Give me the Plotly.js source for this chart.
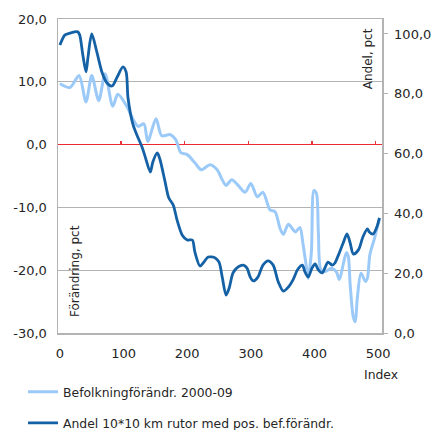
<!DOCTYPE html>
<html>
<head>
<meta charset="utf-8">
<script src="https://cdn.plot.ly/plotly-3.0.1.min.js"></script>
<style>html,body{margin:0;padding:0;background:#fff;}#chart{width:431px;height:430px;}</style>
</head>
<body>
<div id="chart"></div>
<script>
// Light series: Befolkningförändr. 2000-09 (left axis, pct change)
var befX = [0,16,30,41,50,61,71,83,91,105,115,123,132,138,151,160,173,182,190,200,212,222,236,247,255,261,270,280,291,300,310,319,330,338,346,351,359,370,377,382,387,390,395,399,403,406,410,417,426,434,439,445,450,453,456,461,464,467,473,480,483,487,494,502];
var befY = [9.7,9.1,11.0,6.8,11.0,7.0,11.3,6.1,8.0,6.1,4.0,2.9,3.3,0.5,4.1,1.4,1.6,0.8,-1.3,-1.6,-2.9,-4.0,-3.2,-4.0,-5.6,-6.5,-5.6,-6.5,-7.6,-6.2,-8.3,-7.6,-10.4,-10.7,-13.4,-14.3,-12.7,-13.9,-13.2,-15.9,-19.3,-21.3,-17.2,-7.3,-7.8,-13.9,-19.9,-20.2,-19.7,-20.2,-21.5,-19.1,-17.2,-17.8,-22.3,-27.5,-28.2,-24.7,-20.5,-21.8,-21.3,-17.5,-15.0,-11.8];

// Dark series: Andel 10*10 km rutor med pos. bef.förändr. (right axis, share pct)
var andelX = [0,8,16,28,31,36,41,44,50,58,66,74,82,90,99,104,107,115,123,129,134,142,146,153,157,165,171,178,184,192,200,208,212,220,225,233,244,250,255,261,266,272,280,288,294,299,304,311,319,327,335,343,351,359,366,374,381,385,390,396,401,406,412,417,421,428,432,437,445,451,456,461,469,476,483,486,492,498,502];
var andelY = [96.3,99.7,100.3,100.7,99.7,93.0,87.3,92.0,100.0,94.0,87.3,83.6,82.6,85.6,89.0,87.3,78.6,69.6,65.2,62.2,58.9,53.8,57.2,60.2,58.2,50.8,45.2,42.8,37.8,32.8,31.1,31.1,27.1,22.4,23.4,25.4,25.1,23.7,18.7,12.7,15.1,20.1,22.1,22.7,21.7,18.7,17.4,18.7,22.7,24.1,22.7,17.1,14.0,15.4,17.7,21.4,22.7,20.4,18.7,21.7,23.1,21.1,20.1,22.1,23.7,22.7,23.4,25.8,30.1,33.1,30.1,26.4,27.8,32.1,34.8,33.8,33.1,35.5,38.5];

var xTickVals = [0,100,200,300,400,500];
var xTickText = ["0","100","200","300","400","500"];
var leftTickVals = [-30,-20,-10,0,10,20];
var leftTickText = ["-30,0","-20,0","-10,0","0,0","10,0","20,0"];
var rightTickVals = [0,20,40,60,80,100];
var rightTickText = ["0,0","20,0","40,0","60,0","80,0","100,0"];
var zeroTickVals = [100,200,300,400,500];

var seriesNames = ["Befolkningförändr. 2000-09", "Andel 10*10 km rutor med pos. bef.förändr."];
var leftTitle = "Förändring, pct";
var rightTitle = "Andel, pct";
var xTitle = "Index";

var FONT = "DejaVu Sans, sans-serif";
var TXT = "#262626";
var GRID = "#b3b3b3";
var TICKFONT = {family: FONT, size: 13, color: TXT};

var traces = [
  {x: befX, y: befY, type: "scatter", mode: "lines", name: seriesNames[0],
   line: {color: "#9ccaf8", width: 3, shape: "spline", smoothing: 0.8},
   legendgroup: "a", xaxis: "x", yaxis: "y"},
  {x: andelX, y: andelY, type: "scatter", mode: "lines", name: seriesNames[1],
   line: {color: "#1461a6", width: 2.8, shape: "spline", smoothing: 0.8},
   legendgroup: "b", xaxis: "x", yaxis: "y2"},
  // invisible trace that activates xaxis2 (red tick marks on the zero line)
  {x: [zeroTickVals[0]], y: [0], xaxis: "x2", yaxis: "y", showlegend: false, hoverinfo: "skip",
   type: "scatter", mode: "markers", marker: {opacity: 0, size: 1}}
];

var layout = {
  width: 431, height: 430,
  margin: {l: 58, r: 49, t: 19, b: 97, autoexpand: false},
  paper_bgcolor: "#fff", plot_bgcolor: "#fff",
  separators: ", ",
  font: {family: FONT, size: 12, color: TXT},
  showlegend: true,
  legend: {x: -0.108, xanchor: "left", y: -0.141, yanchor: "top",
           font: {family: FONT, size: 12.4, color: TXT},
           tracegroupgap: 12, itemwidth: 30, bgcolor: "rgba(0,0,0,0)"},
  xaxis: {range: [-3, 506], tickvals: xTickVals, ticktext: xTickText,
          showgrid: false, zeroline: false, showline: true, linecolor: GRID, linewidth: 1.5,
          mirror: true, ticks: "", ticklabelstandoff: 8, tickfont: TICKFONT},
  xaxis2: {range: [1, 510], overlaying: "x", anchor: "free", position: 0.5987,
           side: "bottom", tickvals: zeroTickVals, showticklabels: false,
           ticks: "inside", ticklen: 4, tickwidth: 1.2, tickcolor: "#e8323c",
           showgrid: false, zeroline: false, showline: false, layer: "above traces"},
  yaxis: {range: [-30, 20], tickvals: leftTickVals, ticktext: leftTickText,
          showgrid: true, gridcolor: GRID, gridwidth: 1,
          zeroline: true, zerolinecolor: "#ea2a2f", zerolinewidth: 1.5,
          showline: true, linecolor: GRID, linewidth: 1.5, mirror: true,
          ticks: "", ticklabelstandoff: 7, tickfont: TICKFONT},
  yaxis2: {range: [0, 105], overlaying: "y", side: "right", anchor: "x",
           tickvals: rightTickVals, ticktext: rightTickText,
           showgrid: false, zeroline: false, showline: true, linecolor: GRID, linewidth: 1.5,
           ticks: "outside", ticklen: 4, tickcolor: GRID, ticklabelstandoff: 4, tickfont: TICKFONT},
  annotations: [
    {text: leftTitle, xref: "paper", yref: "paper", x: 0.052, y: 0.197, textangle: -90,
     showarrow: false, font: {family: FONT, size: 12, color: TXT}, xanchor: "center", yanchor: "middle"},
    {text: rightTitle, xref: "paper", yref: "paper", x: 0.955, y: 0.873, textangle: -90,
     showarrow: false, font: {family: FONT, size: 12, color: TXT}, xanchor: "center", yanchor: "middle"},
    {text: xTitle, xref: "paper", yref: "paper", x: 0.997, y: -0.131, showarrow: false,
     font: {family: FONT, size: 12.4, color: TXT}, xanchor: "center", yanchor: "middle"}
  ]
};

Plotly.newPlot("chart", traces, layout, {staticPlot: true, displayModeBar: false});
</script>
</body>
</html>
